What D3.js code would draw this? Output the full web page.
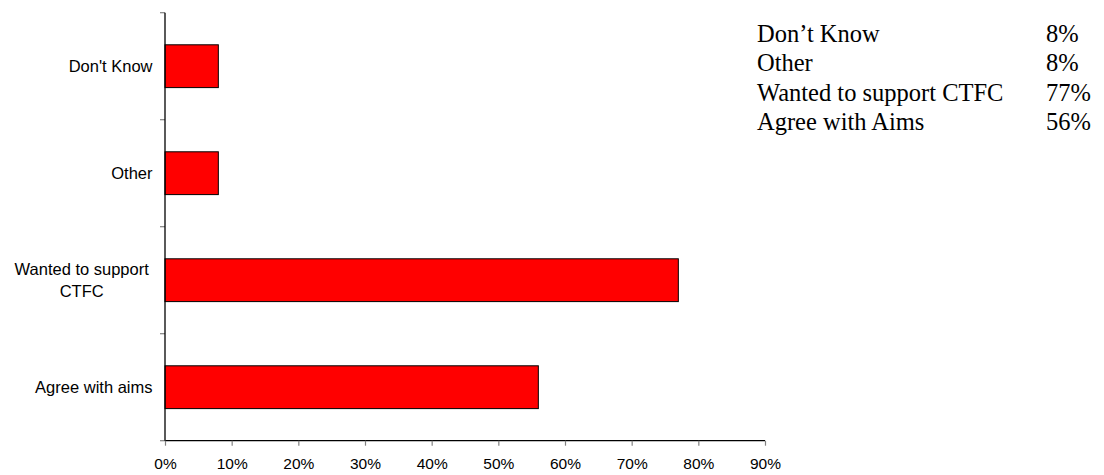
<!DOCTYPE html>
<html>
<head>
<meta charset="utf-8">
<script src="https://cdn.jsdelivr.net/npm/d3@7"></script>
<style>
  html, body { margin: 0; padding: 0; background: #fff; }
  svg { display: block; }
</style>
</head>
<body>
<svg id="chart" width="1104" height="475"></svg>
<script>
// Reasons for supporting CTFC (share of respondents)
const categories = ["Don't Know", "Other", "Wanted to support CTFC", "Agree with aims"];
const values = [0.08, 0.08, 0.77, 0.56];
const tickValues = [0, 0.1, 0.2, 0.3, 0.4, 0.5, 0.6, 0.7, 0.8, 0.9];
const legendLabels = ["Don\u2019t Know", "Other", "Wanted to support CTFC", "Agree with Aims"];

const svg = d3.select("#chart");
const plot = { left: 165, right: 765, top: 12.7, bottom: 440.7 };

const x = d3.scaleLinear().domain([0, 0.9]).range([plot.left, plot.right]);
const y = d3.scaleBand().domain(categories).range([plot.top, plot.bottom])
  .paddingInner(0.6).paddingOuter(0.3);

const sansFont = "'Liberation Sans', Arial, sans-serif";
const serifFont = "'Liberation Serif', 'Times New Roman', serif";

// bars
svg.append("g").selectAll("rect")
  .data(categories)
  .join("rect")
  .attr("x", x(0))
  .attr("y", d => y(d))
  .attr("width", (d, i) => x(values[i]) - x(0))
  .attr("height", y.bandwidth())
  .attr("fill", "#ff0000")
  .attr("stroke", "#000")
  .attr("stroke-width", 1);

// category axis: ticks at band boundaries
const step = y.step();
const boundaries = d3.range(categories.length + 1).map(i => plot.top + i * step);
const yAxis = svg.append("g");
yAxis.selectAll("line.tick")
  .data(boundaries)
  .join("line")
  .attr("class", "tick")
  .attr("x1", plot.left - 5).attr("x2", plot.left)
  .attr("y1", d => d).attr("y2", d => d)
  .attr("stroke", "#808080").attr("stroke-width", 1.2);
yAxis.append("line")
  .attr("x1", plot.left).attr("x2", plot.left)
  .attr("y1", plot.top).attr("y2", plot.bottom)
  .attr("stroke", "#000").attr("stroke-width", 1.3);

// category labels (wrapped where long)
const wrapLines = {
  "Wanted to support CTFC": ["Wanted to support", "CTFC"]
};
const labelG = svg.append("g")
  .attr("font-family", sansFont)
  .attr("font-size", 16.5)
  .attr("fill", "#000");
categories.forEach(c => {
  const cy = y(c) + y.bandwidth() / 2;
  const lines = wrapLines[c];
  if (lines) {
    const lh = 22.4;
    const t = labelG.append("text")
      .attr("text-anchor", "middle")
      .attr("x", 81.7);
    lines.forEach((ln, i) => {
      t.append("tspan")
        .attr("x", 81.7)
        .attr("y", cy + 6 + (i - (lines.length - 1) / 2) * lh)
        .text(ln);
    });
  } else {
    labelG.append("text")
      .attr("text-anchor", "end")
      .attr("x", 152.5)
      .attr("y", cy + 6)
      .text(c);
  }
});

// value axis
const xAxis = svg.append("g")
  .attr("transform", `translate(0,${plot.bottom})`)
  .call(d3.axisBottom(x).tickValues(tickValues).tickFormat(d3.format(".0%"))
    .tickSize(5).tickPadding(12));
xAxis.select(".domain").attr("stroke", "#000").attr("stroke-width", 1.3)
  .attr("d", `M${plot.left},0H${plot.right}`);
xAxis.selectAll(".tick line").attr("stroke", "#808080").attr("stroke-width", 1.2);
xAxis.selectAll(".tick text")
  .attr("font-family", sansFont)
  .attr("font-size", 15.5)
  .attr("fill", "#000");

// summary table
const legend = svg.append("g")
  .attr("font-family", serifFont)
  .attr("font-size", 24.5)
  .attr("fill", "#000");
legendLabels.forEach((lab, i) => {
  const by = 42 + i * 29.3;
  legend.append("text").attr("x", 757).attr("y", by).text(lab);
  legend.append("text").attr("x", 1046).attr("y", by).text(d3.format(".0%")(values[i]));
});
</script>
</body>
</html>
